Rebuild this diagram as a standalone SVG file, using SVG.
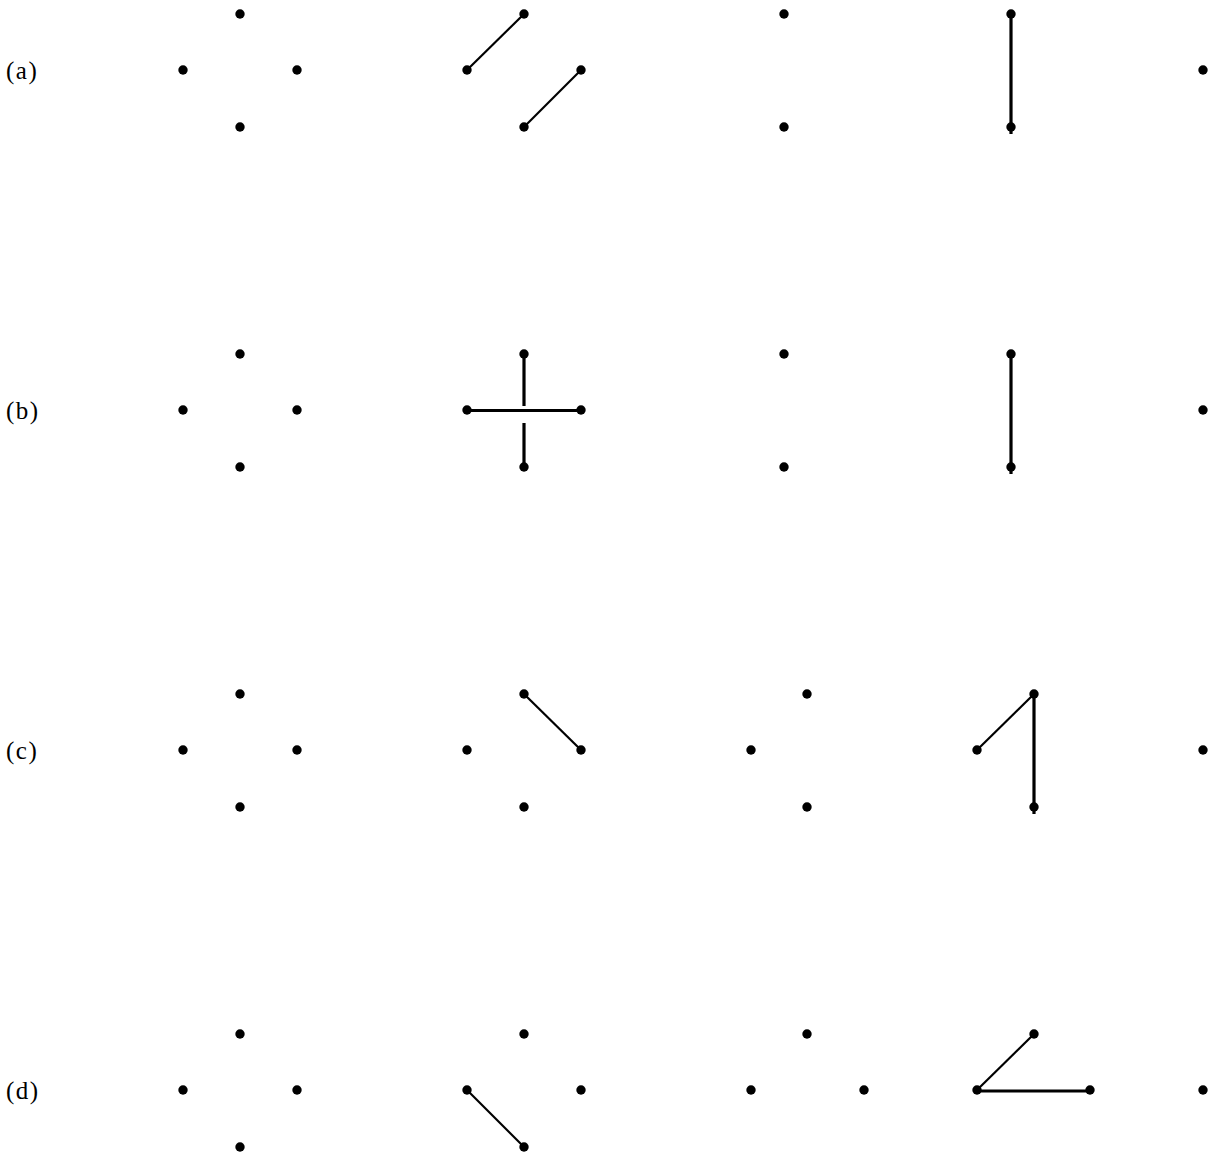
<svg xmlns="http://www.w3.org/2000/svg" width="1208" height="1163" viewBox="0 0 1208 1163">
<style>
.lbl{font-family:"Liberation Serif","Times New Roman",serif;font-size:25px;letter-spacing:1.5px;fill:#000}
.d{fill:#000}
.diag{stroke:#000;stroke-width:2.2;fill:none}
.str{stroke:#000;stroke-width:3.2;fill:none}
</style>
<rect width="1208" height="1163" fill="#fff"/>
<defs><circle id="pt" r="4.7" class="d"/></defs>
<g id="connectors">
  <line class="diag" x1="467" y1="70" x2="524" y2="14"/>
  <line class="diag" x1="524" y1="127" x2="581" y2="70"/>
  <line class="str" x1="1011" y1="14" x2="1011" y2="134"/>
  <line class="str" x1="467" y1="410.5" x2="581" y2="410.5"/>
  <line class="str" x1="524" y1="354" x2="524" y2="406"/>
  <line class="str" x1="524" y1="423" x2="524" y2="467"/>
  <line class="str" x1="1011" y1="354" x2="1011" y2="474"/>
  <line class="diag" x1="524" y1="694" x2="581" y2="750"/>
  <line class="diag" x1="977" y1="750" x2="1034" y2="694"/>
  <line class="str" x1="1034" y1="694" x2="1034" y2="814"/>
  <line class="diag" x1="467" y1="1090" x2="524" y2="1147"/>
  <line class="diag" x1="977" y1="1090" x2="1034" y2="1034"/>
  <line class="str" x1="977" y1="1091" x2="1090" y2="1091"/>
</g>
<g id="label-a"><text class="lbl" x="6" y="79">(a)</text></g>
<g id="label-b"><text class="lbl" x="6" y="419">(b)</text></g>
<g id="label-c"><text class="lbl" x="6" y="759">(c)</text></g>
<g id="label-d"><text class="lbl" x="6" y="1099">(d)</text></g>
<g id="row-a">
  <use href="#pt" x="240" y="14"/><use href="#pt" x="183" y="70"/><use href="#pt" x="297" y="70"/><use href="#pt" x="240" y="127"/>
  <use href="#pt" x="524" y="14"/><use href="#pt" x="467" y="70"/><use href="#pt" x="581" y="70"/><use href="#pt" x="524" y="127"/>
  <use href="#pt" x="784" y="14"/><use href="#pt" x="784" y="127"/>
  <use href="#pt" x="1011" y="14"/><use href="#pt" x="1011" y="127"/>
  <use href="#pt" x="1203" y="70"/>
</g>
<g id="row-b">
  <use href="#pt" x="240" y="354"/><use href="#pt" x="183" y="410"/><use href="#pt" x="297" y="410"/><use href="#pt" x="240" y="467"/>
  <use href="#pt" x="524" y="354"/><use href="#pt" x="467" y="410"/><use href="#pt" x="581" y="410"/><use href="#pt" x="524" y="467"/>
  <use href="#pt" x="784" y="354"/><use href="#pt" x="784" y="467"/>
  <use href="#pt" x="1011" y="354"/><use href="#pt" x="1011" y="467"/>
  <use href="#pt" x="1203" y="410"/>
</g>
<g id="row-c">
  <use href="#pt" x="240" y="694"/><use href="#pt" x="183" y="750"/><use href="#pt" x="297" y="750"/><use href="#pt" x="240" y="807"/>
  <use href="#pt" x="524" y="694"/><use href="#pt" x="467" y="750"/><use href="#pt" x="581" y="750"/><use href="#pt" x="524" y="807"/>
  <use href="#pt" x="807" y="694"/><use href="#pt" x="751" y="750"/><use href="#pt" x="807" y="807"/>
  <use href="#pt" x="1034" y="694"/><use href="#pt" x="977" y="750"/><use href="#pt" x="1034" y="807"/>
  <use href="#pt" x="1203" y="750"/>
</g>
<g id="row-d">
  <use href="#pt" x="240" y="1034"/><use href="#pt" x="183" y="1090"/><use href="#pt" x="297" y="1090"/><use href="#pt" x="240" y="1147"/>
  <use href="#pt" x="524" y="1034"/><use href="#pt" x="467" y="1090"/><use href="#pt" x="581" y="1090"/><use href="#pt" x="524" y="1147"/>
  <use href="#pt" x="807" y="1034"/><use href="#pt" x="751" y="1090"/><use href="#pt" x="864" y="1090"/>
  <use href="#pt" x="1034" y="1034"/><use href="#pt" x="977" y="1090"/><use href="#pt" x="1090" y="1090"/>
  <use href="#pt" x="1203" y="1090"/>
</g>
</svg>
